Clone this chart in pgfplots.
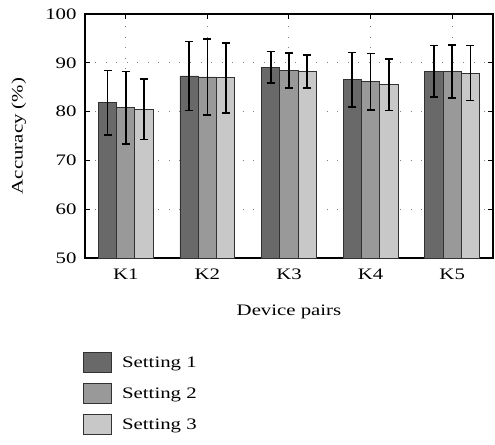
\documentclass[border=0pt]{standalone}
\usepackage{fontspec}
\setmainfont{Liberation Serif}[FakeStretch=1.3]
\usepackage{pgfplots}
\usepackage{pgfplotstable}
\pgfplotsset{compat=1.18}
\definecolor{sone}{RGB}{105,105,105}
\definecolor{stwo}{RGB}{153,153,153}
\definecolor{sthree}{RGB}{200,200,200}
\definecolor{edge}{RGB}{50,50,50}
\pgfplotstableread{
x y1 e1 y2 e2 y3 e3
1 81.8 6.6 80.8 7.4 80.5 6.2
2 87.3 7.05 87.1 7.8 86.9 7.2
3 89.1 3.2 88.4 3.6 88.2 3.35
4 86.5 5.6 86.1 5.8 85.5 5.3
5 88.3 5.25 88.2 5.4 87.9 5.65
}\data
\begin{document}
\fontsize{16bp}{19bp}\selectfont
\begin{tikzpicture}
\path[use as bounding box] (-85bp,-187bp) rectangle (410bp,258bp);
\begin{axis}[
  at={(0,0)}, anchor=south west,
  scale only axis, width=408bp, height=244bp,
  font=\fontsize{16bp}{19bp}\selectfont,
  /pgf/number format/assume math mode=true,
  ybar=0pt, bar width=0.224,
  xmin=0.5, xmax=5.5, ymin=50, ymax=100,
  xtick={1,2,3,4,5}, xticklabels={K1,K2,K3,K4,K5},
  ytick={50,60,70,80,90,100},
  tick align=inside, major tick length=5bp,
  tick style={black, line width=1bp},
  axis line style={line width=1.6bp, black},
  xmajorgrids, ymajorgrids,
  grid style={gray, line width=1bp, dash pattern=on 1bp off 9.5bp},
  yticklabel style={xshift=-3bp},
  xticklabel style={yshift=-5bp},
  xlabel={Device pairs}, ylabel={Accuracy (\%)},
  xlabel style={at={(axis description cs:0.5,-0.234)}, anchor=base},
  ylabel style={at={(axis description cs:-0.162,0.5)}, anchor=center},
  legend cell align=left,
  legend style={draw=none, fill=none, at={(-0.005,-0.385)}, anchor=north west,
    inner sep=0pt, row sep=10bp,
    /tikz/every odd column/.append style={column sep=8bp},
    font=\fontsize{16bp}{19bp}\selectfont},
  legend image code/.code={\draw[#1, draw=edge, line width=1bp] (0bp,-9.5bp) rectangle (28bp,10.5bp);},
  error bars/error bar style={line width=1.7bp, black},
  error bars/error mark options={rotate=90, mark size=4bp, line width=1.7bp, black},
]
\addplot[fill=sone, draw=edge, line width=0.9bp,
  error bars/.cd, y dir=both, y explicit] table[x=x, y=y1, y error=e1] {\data};
\addplot[fill=stwo, draw=edge, line width=0.9bp,
  error bars/.cd, y dir=both, y explicit] table[x=x, y=y2, y error=e2] {\data};
\addplot[fill=sthree, draw=edge, line width=0.9bp,
  error bars/.cd, y dir=both, y explicit] table[x=x, y=y3, y error=e3] {\data};
\legend{Setting 1, Setting 2, Setting 3}
\end{axis}
\end{tikzpicture}
\end{document}
